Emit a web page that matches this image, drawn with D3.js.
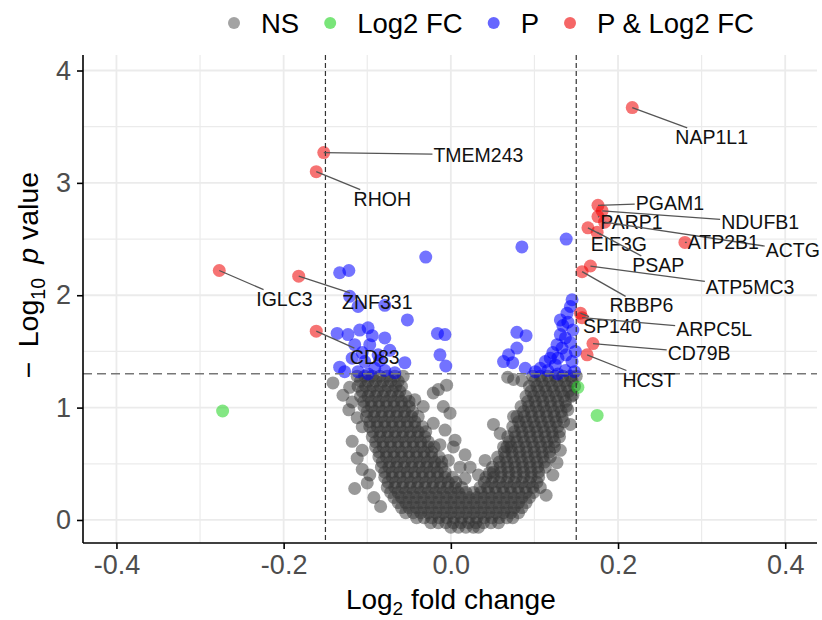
<!DOCTYPE html>
<html>
<head>
<meta charset="utf-8">
<script src="https://cdn.jsdelivr.net/npm/d3@7"></script>
<style>
  body { margin: 0; background: #fff; }
  svg text { font-family: "Liberation Sans", Arial, sans-serif; }
</style>
</head>
<body>
<svg id="chart" width="822" height="620"></svg>
<script>
// ---- data (log2 fold change, -log10 p) ----
const xTicks = [-0.4, -0.2, 0.0, 0.2, 0.4];
const yTicks = [0, 1, 2, 3, 4];
const fcCutoff = 0.15;
const pCutoff = 1.301;

// not significant: rows of the dense "V" [y, [x...]]
const nsRows = [
  [1.280, [-0.112, -0.103, -0.094, -0.085, -0.076, -0.067, 0.098, 0.107, 0.116, 0.125, 0.134, 0.143, 0.150]],
  [1.235, [-0.108, -0.099, -0.090, -0.081, -0.072, -0.063, 0.100, 0.109, 0.118, 0.127, 0.136, 0.145]],
  [1.190, [-0.111, -0.102, -0.093, -0.084, -0.075, -0.066, -0.059, 0.094, 0.103, 0.112, 0.121, 0.130, 0.139, 0.148]],
  [1.145, [-0.106, -0.097, -0.088, -0.079, -0.070, -0.061, 0.096, 0.105, 0.114, 0.123, 0.132, 0.141]],
  [1.100, [-0.108, -0.099, -0.090, -0.081, -0.072, -0.063, -0.054, 0.090, 0.099, 0.108, 0.117, 0.126, 0.135, 0.144]],
  [1.055, [-0.104, -0.095, -0.086, -0.077, -0.068, -0.059, -0.050, 0.092, 0.101, 0.110, 0.119, 0.128, 0.137]],
  [1.010, [-0.104, -0.095, -0.086, -0.077, -0.068, -0.059, -0.050, 0.084, 0.093, 0.102, 0.111, 0.120, 0.129, 0.138]],
  [0.965, [-0.100, -0.091, -0.082, -0.073, -0.064, -0.055, -0.046, 0.087, 0.096, 0.105, 0.114, 0.123, 0.132]],
  [0.920, [-0.101, -0.092, -0.083, -0.074, -0.065, -0.056, -0.047, -0.039, 0.079, 0.088, 0.097, 0.106, 0.115, 0.124, 0.133]],
  [0.875, [-0.097, -0.088, -0.079, -0.070, -0.061, -0.052, -0.043, 0.081, 0.090, 0.099, 0.108, 0.117, 0.126, 0.135]],
  [0.830, [-0.097, -0.088, -0.079, -0.070, -0.061, -0.052, -0.043, -0.034, 0.074, 0.083, 0.092, 0.101, 0.110, 0.119, 0.128]],
  [0.785, [-0.093, -0.084, -0.075, -0.066, -0.057, -0.048, -0.039, -0.030, 0.076, 0.085, 0.094, 0.103, 0.112, 0.121, 0.130]],
  [0.740, [-0.094, -0.085, -0.076, -0.067, -0.058, -0.049, -0.040, -0.031, 0.068, 0.077, 0.086, 0.095, 0.104, 0.113, 0.122]],
  [0.695, [-0.090, -0.081, -0.072, -0.063, -0.054, -0.045, -0.036, -0.027, 0.070, 0.079, 0.088, 0.097, 0.106, 0.115, 0.124]],
  [0.650, [-0.090, -0.081, -0.072, -0.063, -0.054, -0.045, -0.036, -0.027, -0.020, 0.063, 0.072, 0.081, 0.090, 0.099, 0.108, 0.117, 0.124]],
  [0.605, [-0.086, -0.077, -0.068, -0.059, -0.050, -0.041, -0.032, -0.023, 0.064, 0.073, 0.082, 0.091, 0.100, 0.109, 0.118]],
  [0.560, [-0.086, -0.077, -0.068, -0.059, -0.050, -0.041, -0.032, -0.023, -0.014, 0.056, 0.065, 0.074, 0.083, 0.092, 0.101, 0.110, 0.119]],
  [0.515, [-0.082, -0.073, -0.064, -0.055, -0.046, -0.037, -0.028, -0.019, -0.011, 0.058, 0.067, 0.076, 0.085, 0.094, 0.103, 0.112]],
  [0.470, [-0.083, -0.074, -0.065, -0.056, -0.047, -0.038, -0.029, -0.020, -0.011, 0.050, 0.059, 0.068, 0.077, 0.086, 0.095, 0.104, 0.113]],
  [0.425, [-0.079, -0.070, -0.061, -0.052, -0.043, -0.034, -0.025, -0.016, -0.007, 0.051, 0.060, 0.069, 0.078, 0.087, 0.096, 0.105]],
  [0.380, [-0.079, -0.070, -0.061, -0.052, -0.043, -0.034, -0.025, -0.016, -0.007, 0.002, 0.042, 0.051, 0.060, 0.069, 0.078, 0.087, 0.096, 0.105]],
  [0.335, [-0.075, -0.066, -0.057, -0.048, -0.039, -0.030, -0.021, -0.012, -0.003, 0.006, 0.040, 0.049, 0.058, 0.067, 0.076, 0.085, 0.094, 0.103]],
  [0.290, [-0.076, -0.067, -0.058, -0.049, -0.040, -0.031, -0.022, -0.013, -0.004, 0.005, 0.013, 0.035, 0.044, 0.053, 0.062, 0.071, 0.080, 0.089, 0.098]],
  [0.245, [-0.072, -0.063, -0.054, -0.045, -0.036, -0.027, -0.018, -0.009, 0.000, 0.009, 0.018, 0.027, 0.036, 0.045, 0.054, 0.063, 0.072, 0.081, 0.090, 0.099]],
  [0.200, [-0.068, -0.059, -0.050, -0.041, -0.032, -0.023, -0.014, -0.005, 0.004, 0.013, 0.022, 0.031, 0.040, 0.049, 0.058, 0.067, 0.076, 0.085, 0.094]],
  [0.155, [-0.063, -0.054, -0.045, -0.036, -0.027, -0.018, -0.009, 0.000, 0.009, 0.018, 0.027, 0.036, 0.045, 0.054, 0.063, 0.072, 0.081, 0.090]],
  [0.110, [-0.059, -0.050, -0.041, -0.032, -0.023, -0.014, -0.005, 0.004, 0.013, 0.022, 0.031, 0.040, 0.049, 0.058, 0.067, 0.076, 0.085]],
  [0.065, [-0.054, -0.045, -0.036, -0.027, -0.018, -0.009, 0.000, 0.009, 0.018, 0.027, 0.036, 0.045, 0.054, 0.063, 0.072, 0.081]],
  [0.020, [-0.041, -0.032, -0.023, -0.014, -0.005, 0.004, 0.013, 0.022, 0.031, 0.040, 0.049, 0.058, 0.067, 0.074]],
  [-0.025, [-0.024, -0.015, -0.006, 0.003, 0.012, 0.021, 0.030, 0.039, 0.048, 0.057]],
  [-0.065, [0.000, 0.009, 0.018, 0.027, 0.033]]
];

// not significant: loose points around the V
const nsScatter = [
  [-0.141, 1.22], [-0.129, 1.11], [-0.122, 0.98], [-0.118, 1.05], [-0.121, 1.18], [-0.112, 0.91],
  [-0.106, 0.83], [-0.118, 0.70], [-0.106, 0.62], [-0.112, 0.55], [-0.106, 0.45], [-0.097, 0.40],
  [-0.100, 0.33], [-0.115, 0.28], [-0.092, 0.20], [-0.084, 0.12], [-0.057, 1.28], [-0.033, 1.01],
  [-0.021, 1.13], [-0.043, 1.07],
  [-0.015, 1.16], [-0.005, 1.20], [-0.009, 1.01], [-0.021, 0.86], [-0.001, 0.95], [-0.007, 0.80],
  [0.005, 0.71], [-0.013, 0.67], [0.003, 0.65], [0.017, 0.58], [-0.003, 0.53], [0.011, 0.47],
  [0.023, 0.47], [0.033, 0.40], [0.017, 0.37], [0.041, 0.53],
  [0.051, 0.85], [0.075, 0.92], [0.127, 0.51], [0.130, 0.74], [0.140, 0.98], [0.107, 0.29],
  [0.146, 1.11], [0.143, 0.85], [0.131, 0.62], [0.122, 0.40], [0.114, 0.22], [0.068, 1.27],
  [0.085, 1.24], [0.075, 1.25], [0.059, 0.77], [0.067, 0.65], [0.046, 0.42]
];

// |log2FC| passes, p does not
const fcPoints = [[-0.273, 0.97], [0.152, 1.18], [0.175, 0.93]];

// p passes, |log2FC| does not
const pPoints = [
  [-0.133, 2.20], [-0.122, 2.22], [-0.030, 2.34], [-0.121, 1.99], [-0.111, 1.90], [-0.079, 1.91],
  [-0.052, 1.78], [-0.136, 1.66], [-0.123, 1.65], [-0.109, 1.69], [-0.099, 1.71], [-0.094, 1.64],
  [-0.079, 1.62], [-0.055, 1.40], [-0.133, 1.36], [-0.127, 1.32], [-0.115, 1.56], [-0.106, 1.49],
  [-0.097, 1.56], [-0.087, 1.47], [-0.103, 1.41], [-0.091, 1.35], [-0.079, 1.33], [-0.111, 1.32],
  [-0.099, 1.30], [-0.085, 1.42], [-0.073, 1.51], [-0.118, 1.44], [-0.067, 1.31],
  [-0.016, 1.66], [-0.007, 1.65], [-0.013, 1.47], [-0.006, 1.37],
  [0.085, 2.43], [0.138, 2.50], [0.079, 1.67], [0.090, 1.64], [0.079, 1.53], [0.069, 1.47],
  [0.063, 1.41], [0.074, 1.40], [0.089, 1.35],
  [0.145, 1.96], [0.143, 1.90], [0.139, 1.84], [0.134, 1.73], [0.140, 1.76], [0.131, 1.65],
  [0.137, 1.62], [0.127, 1.56], [0.133, 1.53], [0.122, 1.49], [0.143, 1.58], [0.119, 1.44],
  [0.128, 1.44], [0.138, 1.47], [0.113, 1.41], [0.125, 1.38], [0.145, 1.41], [0.107, 1.35],
  [0.116, 1.33], [0.137, 1.33], [0.148, 1.32], [0.101, 1.32], [0.128, 1.30], [0.149, 1.50],
  [0.131, 1.78], [0.146, 1.69]
];

// both pass (labelled genes)
const genes = ['NAP1L1', 'PGAM1', 'NDUFB1', 'PARP1', 'ACTG', 'EIF3G', 'PSAP', 'ATP2B1', 'ATP5MC3',
  'RBBP6', 'SP140', 'ARPC5L', 'CD79B', 'HCST', 'TMEM243', 'RHOH', 'IGLC3', 'ZNF331', 'CD83'];
const geneFC = [0.217, 0.176, 0.181, 0.176, 0.184, 0.164, 0.175, 0.280, 0.167,
  0.157, 0.155, 0.157, 0.170, 0.163, -0.152, -0.161, -0.277, -0.182, -0.161];
const geneP = [3.67, 2.80, 2.75, 2.70, 2.65, 2.60, 2.56, 2.47, 2.26,
  2.21, 1.84, 1.80, 1.57, 1.47, 3.27, 3.10, 2.22, 2.17, 1.68];
// where the repelled labels ended up (label centre, data units)
const labelFC = [0.312, 0.262, 0.370, 0.216, 0.409, 0.201, 0.248, 0.326, 0.358,
  0.228, 0.193, 0.315, 0.297, 0.237, 0.033, -0.082, -0.199, -0.088, -0.091];
const labelP = [3.41, 2.82, 2.65, 2.65, 2.40, 2.46, 2.27, 2.47, 2.07,
  1.91, 1.73, 1.70, 1.49, 1.25, 3.25, 2.86, 1.97, 1.94, 1.45];

const legendKeys = ['NS', 'Log2 FC', 'P', 'P & Log2 FC'];
const colors = { 'NS': '#333333', 'Log2 FC': '#1fd31f', 'P': '#0000ff', 'P & Log2 FC': '#ee0000' };

// ---- chart ----
const svg = d3.select('#chart');
const panel = { left: 83, right: 817, top: 55, bottom: 543 };

const x = d3.scaleLinear().domain([-0.44, 0.438]).range([panel.left, panel.right]);
const y = d3.scaleLinear().domain([-0.205, 4.138]).range([panel.bottom, panel.top]);

// grid
const grid = svg.append('g');
const xMinor = [-0.3, -0.1, 0.1, 0.3];
const yMinor = [0.5, 1.5, 2.5, 3.5];
grid.selectAll('.vx').data(xTicks.concat(xMinor)).join('line')
  .attr('x1', d => x(d)).attr('x2', d => x(d))
  .attr('y1', panel.top).attr('y2', panel.bottom)
  .attr('stroke', '#ebebeb').attr('stroke-width', d => xMinor.includes(d) ? 1.2 : 1.8);
grid.selectAll('.hy').data(yTicks.concat(yMinor)).join('line')
  .attr('y1', d => y(d)).attr('y2', d => y(d))
  .attr('x1', panel.left).attr('x2', panel.right)
  .attr('stroke', '#ebebeb').attr('stroke-width', d => yMinor.includes(d) ? 1.2 : 1.8);

// points
const nsPoints = nsRows.flatMap(([py, xs]) => xs.map(px => [px, py])).concat(nsScatter);
const bothPoints = genes.map((g, i) => [geneFC[i], geneP[i]]);
const layers = [
  ['NS', nsPoints], ['Log2 FC', fcPoints], ['P', pPoints], ['P & Log2 FC', bothPoints]
];
const pts = svg.append('g');
layers.forEach(([key, data]) => {
  pts.append('g').selectAll('circle').data(data).join('circle')
    .attr('cx', d => x(d[0])).attr('cy', d => y(d[1]))
    .attr('r', 6.5)
    .attr('fill', colors[key])
    .attr('fill-opacity', key === 'NS' ? 0.5 : 0.55);
});

// cutoff lines
svg.selectAll('.vcut').data([-fcCutoff, fcCutoff]).join('line')
  .attr('x1', d => x(d)).attr('x2', d => x(d))
  .attr('y1', panel.top).attr('y2', panel.bottom)
  .attr('stroke', '#333').attr('stroke-width', 1.2).attr('stroke-dasharray', '5,3');
svg.append('line')
  .attr('x1', panel.left).attr('x2', panel.right)
  .attr('y1', y(pCutoff)).attr('y2', y(pCutoff))
  .attr('stroke', '#777').attr('stroke-width', 1.6).attr('stroke-dasharray', '9,5');

// labels + connectors
const labG = svg.append('g');
genes.forEach((g, i) => {
  const px = x(geneFC[i]), py = y(geneP[i]);
  const lx = x(labelFC[i]), ly = y(labelP[i]);
  const seg = labG.append('line').attr('stroke', '#555').attr('stroke-width', 1.3);
  const t = labG.append('text')
    .attr('x', lx).attr('y', ly)
    .attr('text-anchor', 'middle').attr('dominant-baseline', 'central')
    .attr('font-size', 19.5).attr('fill', '#111')
    .text(g);
  const b = t.node().getBBox();
  // clip the segment at the label box
  const dx = lx - px, dy = ly - py;
  const hw = b.width / 2 + 1, hh = b.height / 2 - 2;
  const s = Math.min(Math.abs(dx) > 0 ? hw / Math.abs(dx) : Infinity, Math.abs(dy) > 0 ? hh / Math.abs(dy) : Infinity);
  const ex = lx - dx * Math.min(s, 1), ey = ly - dy * Math.min(s, 1);
  seg.attr('x1', px).attr('y1', py).attr('x2', ex).attr('y2', ey);
});

// axes
const xAxis = svg.append('g')
  .attr('transform', `translate(0,${panel.bottom})`)
  .call(d3.axisBottom(x).tickValues(xTicks).tickFormat(d => d.toFixed(1)).tickSize(6).tickPadding(6));
const yAxis = svg.append('g')
  .attr('transform', `translate(${panel.left},0)`)
  .call(d3.axisLeft(y).tickValues(yTicks).tickFormat(d3.format('d')).tickSize(6).tickPadding(6));
[xAxis, yAxis].forEach(a => {
  a.select('.domain').attr('stroke', '#000').attr('stroke-width', 1.6)
    .attr('d', a === xAxis ? `M${panel.left},0H${panel.right}` : `M0,${panel.top}V${panel.bottom}`);
  a.selectAll('.tick line').attr('stroke', '#000').attr('stroke-width', 1.6);
  a.selectAll('.tick text').attr('fill', '#4d4d4d').attr('font-size', 27)
    .style('font-family', '"Liberation Sans", Arial, sans-serif');
});

// axis titles
const xt = svg.append('text')
  .attr('x', x(0)).attr('y', 609).attr('text-anchor', 'middle')
  .attr('font-size', 28).attr('fill', '#000');
xt.append('tspan').text('Log');
xt.append('tspan').attr('font-size', 19).attr('dy', 6).text('2');
xt.append('tspan').attr('dy', -6).text(' fold change');

const yt = svg.append('text')
  .attr('transform', `translate(38,${y(2.18)}) rotate(-90)`)
  .attr('text-anchor', 'middle')
  .attr('font-size', 28.5).attr('fill', '#000');
yt.append('tspan').text('\u2212\u2002Log');
yt.append('tspan').attr('font-size', 19.5).attr('dy', 7).text('10');
yt.append('tspan').attr('dy', -7).attr('font-style', 'italic').text('\u2002p');
yt.append('tspan').text(' value');

// legend
const leg = svg.append('g').attr('transform', 'translate(0,23)');
let cx = 234;
legendKeys.forEach(k => {
  leg.append('circle').attr('cx', cx).attr('cy', 0).attr('r', 6)
    .attr('fill', colors[k]).attr('fill-opacity', k === 'NS' ? 0.45 : 0.6);
  const t = leg.append('text').attr('x', cx + 27).attr('y', 0)
    .attr('dominant-baseline', 'central').attr('font-size', 27.5).attr('fill', '#000')
    .text(k);
  cx += 27 + t.node().getComputedTextLength() + 31;
});
</script>
</body>
</html>
